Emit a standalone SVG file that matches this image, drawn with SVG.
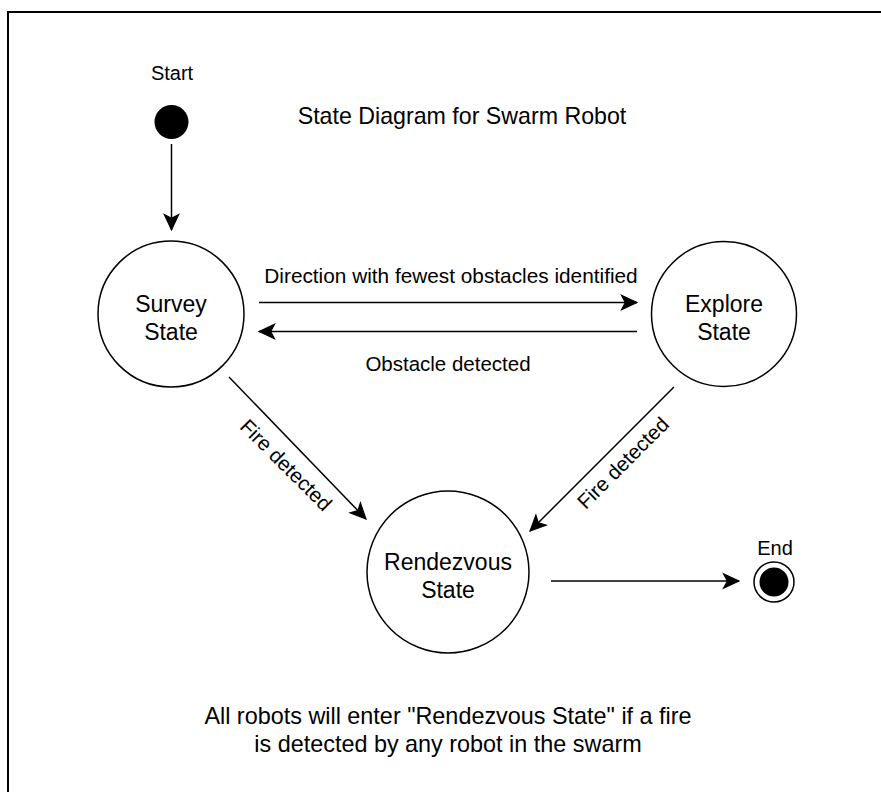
<svg xmlns="http://www.w3.org/2000/svg" width="881" height="792" viewBox="0 0 881 792">
<style>
text{font-family:"Liberation Sans",Arial,Helvetica,sans-serif;fill:#000}
.st{font-size:23px;text-anchor:middle}
.lb{font-size:20.5px;text-anchor:middle}
.state{fill:#fff;stroke:#000;stroke-width:1.5}
.conn{stroke:#000;stroke-width:1.5;fill:none;marker-end:url(#arr)}
</style>
<defs>
<marker id="arr" markerUnits="userSpaceOnUse" markerWidth="20" markerHeight="20" viewBox="-16 -8 18 16" refX="0" refY="0" orient="auto">
<path d="M-14,-6.5 L0,0 L-14,6.5 L-10.5,0 Z" fill="#000" stroke="#000" stroke-width="1"/>
</marker>
</defs>
<rect x="0" y="0" width="881" height="792" fill="#fff"/>
<rect x="8" y="12" width="900" height="900" fill="none" stroke="#000" stroke-width="2"/>
<text class="st" x="462" y="124" style="font-size:23.2px">State Diagram for Swarm Robot</text>
<g id="start">
<text class="lb" x="172" y="80" style="font-size:20px">Start</text>
<circle cx="171.5" cy="122" r="17" fill="#000"/>
</g>
<g id="survey">
<circle class="state" cx="171" cy="314" r="73"/>
<text class="st" x="171" y="312">Survey</text>
<text class="st" x="171" y="339.5">State</text>
</g>
<g id="explore">
<circle class="state" cx="724" cy="314" r="72.5"/>
<text class="st" x="724" y="312">Explore</text>
<text class="st" x="724" y="339.5">State</text>
</g>
<g id="rendezvous">
<circle class="state" cx="448" cy="572" r="81"/>
<text class="st" x="448" y="570">Rendezvous</text>
<text class="st" x="448" y="597.5">State</text>
</g>
<g id="end">
<text class="lb" x="775" y="555" style="font-size:20px">End</text>
<circle cx="774" cy="582" r="20" fill="#fff" stroke="#000" stroke-width="1.5"/>
<circle cx="774" cy="582" r="14.5" fill="#000"/>
</g>
<g id="connectors">
<line class="conn" x1="171.5" y1="144" x2="171.5" y2="230"/>
<line class="conn" x1="259" y1="302.5" x2="637" y2="302.5"/>
<line class="conn" x1="637" y1="331.5" x2="259" y2="331.5"/>
<line class="conn" x1="229" y1="377" x2="366" y2="519"/>
<line class="conn" x1="674" y1="387" x2="530" y2="531"/>
<line class="conn" x1="551" y1="581" x2="739" y2="581"/>
<text class="lb" x="451" y="283" style="font-size:20.8px">Direction with fewest obstacles identified</text>
<text class="lb" x="448" y="371">Obstacle detected</text>
<text class="lb" transform="translate(286,465) rotate(45)" x="0" y="7">Fire detected</text>
<text class="lb" transform="translate(623,463) rotate(-45)" x="0" y="7">Fire detected</text>
</g>
<text class="st" x="448" y="724" style="font-size:23.4px">All robots will enter "Rendezvous State" if a fire</text>
<text class="st" x="448" y="752" style="font-size:23.4px">is detected by any robot in the swarm</text>
</svg>
